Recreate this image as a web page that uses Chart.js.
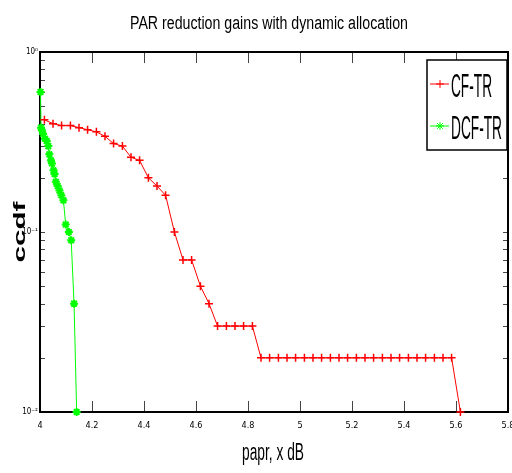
<!DOCTYPE html>
<html>
<head>
<meta charset="utf-8">
<script src="https://cdn.jsdelivr.net/npm/chart.js@4.4.1/dist/chart.umd.min.js"></script>
<style>
  html, body { margin: 0; padding: 0; background: #fff; }
  #wrap { width: 512px; height: 473px; }
</style>
</head>
<body>
<div id="wrap"><canvas id="chart" width="512" height="473"></canvas></div>
<script>
// ---------- DATA ----------
const titleText = "PAR reduction gains with dynamic allocation";
const xLabel = "papr, x dB";
const yLabel = "ccdf";
const seriesNames = ["CF-TR", "DCF-TR"];

const cfX = [4.017, 4.05, 4.083, 4.117, 4.15, 4.183, 4.217, 4.25, 4.283, 4.317,
  4.35, 4.383, 4.417, 4.45, 4.483, 4.517, 4.55, 4.583, 4.617, 4.65,
  4.683, 4.717, 4.75, 4.783, 4.817, 4.85, 4.883, 4.917, 4.95, 4.983,
  5.017, 5.05, 5.083, 5.117, 5.15, 5.183, 5.217, 5.25, 5.283, 5.317,
  5.35, 5.383, 5.417, 5.45, 5.483, 5.517, 5.55, 5.583, 5.617];
const cfY = [0.42, 0.40, 0.39, 0.39, 0.38, 0.37, 0.36, 0.34, 0.31, 0.30,
  0.26, 0.25, 0.20, 0.18, 0.16, 0.10, 0.07, 0.07, 0.05, 0.04,
  0.03, 0.03, 0.03, 0.03, 0.03, 0.02, 0.02, 0.02, 0.02, 0.02,
  0.02, 0.02, 0.02, 0.02, 0.02, 0.02, 0.02, 0.02, 0.02, 0.02,
  0.02, 0.02, 0.02, 0.02, 0.02, 0.02, 0.02, 0.02, 0.01];

const dcfX = [4.002, 4.004, 4.007, 4.012, 4.019, 4.026, 4.032, 4.036, 4.042, 4.046,
  4.052, 4.056, 4.061, 4.068, 4.075, 4.082, 4.090, 4.099, 4.111, 4.120,
  4.131, 4.141];
const dcfY = [0.60, 0.38, 0.37, 0.35, 0.33, 0.32, 0.30, 0.27, 0.25, 0.24,
  0.22, 0.21, 0.19, 0.18, 0.17, 0.16, 0.15, 0.11, 0.10, 0.09,
  0.04, 0.01];

const xTicks = [4, 4.2, 4.4, 4.6, 4.8, 5, 5.2, 5.4, 5.6, 5.8];
const yTicks = [0.01, 0.02, 0.03, 0.04, 0.05, 0.06, 0.07, 0.08, 0.09,
  0.1, 0.2, 0.3, 0.4, 0.5, 0.6, 0.7, 0.8, 0.9, 1];
const yMajor = [1, 0.1, 0.01];
const yMajorLabels = ["10\u2070", "10\u207B\u00B9", "10\u207B\u00B2"];

const FONT = "'Liberation Sans', Arial, sans-serif";
const RED = "#ff0000";
const GREEN = "#00ff00";

function toPoints(xs, ys) {
  return xs.map((x, i) => ({ x: x, y: ys[i] }));
}

// text squeezed/stretched to a given width, like the reference
function drawText(ctx, text, x, y, font, width, align, rotate) {
  ctx.save();
  ctx.font = font;
  const natural = ctx.measureText(text).width;
  ctx.translate(x, y);
  if (rotate) ctx.rotate(-Math.PI / 2);
  ctx.scale(width / natural, 1);
  ctx.textAlign = align;
  ctx.textBaseline = "alphabetic";
  ctx.fillStyle = "#000";
  ctx.fillText(text, 0, 0);
  ctx.restore();
}

// ---------- FRAME + INWARD TICKS ----------
const framePlugin = {
  id: "frame",
  beforeDatasetsDraw(chart) {
    const { ctx, chartArea: a, scales } = chart;
    ctx.save();
    ctx.strokeStyle = "#444";
    ctx.lineWidth = 1;
    ctx.beginPath();
    xTicks.forEach(v => {
      const px = Math.round(scales.x.getPixelForValue(v)) + 0.5;
      ctx.moveTo(px, a.bottom); ctx.lineTo(px, a.bottom - 11);
      ctx.moveTo(px, a.top); ctx.lineTo(px, a.top + 11);
    });
    yTicks.forEach(v => {
      const py = Math.round(scales.y.getPixelForValue(v)) + 0.5;
      ctx.moveTo(a.left, py); ctx.lineTo(a.left + 5, py);
      ctx.moveTo(a.right, py); ctx.lineTo(a.right - 5, py);
    });
    ctx.stroke();

    ctx.strokeStyle = "#000";
    ctx.lineWidth = 2;
    ctx.strokeRect(a.left, a.top, a.right - a.left, a.bottom - a.top);
    ctx.restore();
  },
  afterDraw(chart) {
    const { ctx, chartArea: a } = chart;
    drawText(ctx, titleText, 269, 29, "18px " + FONT, 278, "center");
    drawText(ctx, xLabel, 273, 460, "23px " + FONT, 62, "center");
    drawText(ctx, yLabel, 25, (a.top + a.bottom) / 2, "bold 17px " + FONT, 61, "center", true);
  }
};

// ---------- LEGEND BOX ----------
const legendBox = {
  id: "legendBox",
  afterDraw(chart) {
    const { ctx, chartArea: a } = chart;
    const w = 80, h = 90;
    const x0 = a.right - w - 1, y0 = a.top + 8;
    const widths = [41, 51];
    ctx.save();
    ctx.fillStyle = "#fff";
    ctx.fillRect(x0, y0, w, h);
    ctx.strokeStyle = "#000";
    ctx.lineWidth = 1.5;
    ctx.strokeRect(x0, y0, w, h);

    chart.data.datasets.forEach((ds, i) => {
      const cy = y0 + 24 + i * 42;
      ctx.strokeStyle = ds.borderColor;
      ctx.lineWidth = 1;
      ctx.beginPath();
      ctx.moveTo(x0 + 3, cy); ctx.lineTo(x0 + 22, cy);
      ctx.stroke();
      ctx.fillStyle = ds.borderColor;
      Chart.helpers.drawPoint(ctx, {
        pointStyle: ds.pointStyle, radius: ds.pointRadius,
        borderWidth: ds.pointBorderWidth, rotation: 0
      }, x0 + 13, cy);
      drawText(ctx, ds.label, x0 + 24, cy + 13, "34px " + FONT, widths[i], "left");
    });
    ctx.restore();
  }
};

// ---------- CHART ----------
new Chart(document.getElementById("chart"), {
  type: "line",
  data: {
    datasets: [
      {
        label: seriesNames[0],
        data: toPoints(cfX, cfY),
        borderColor: RED,
        backgroundColor: RED,
        borderWidth: 1,
        pointStyle: "cross",
        pointRadius: 4,
        pointBorderWidth: 1.5,
        pointBorderColor: RED,
        clip: false
      },
      {
        label: seriesNames[1],
        data: toPoints(dcfX, dcfY),
        borderColor: GREEN,
        backgroundColor: GREEN,
        borderWidth: 1,
        pointStyle: "star",
        pointRadius: 4,
        pointBorderWidth: 2,
        pointBorderColor: GREEN,
        clip: false
      }
    ]
  },
  options: {
    responsive: false,
    animation: false,
    layout: { autoPadding: false, padding: { left: 0, right: 4, top: 52, bottom: 0 } },
    plugins: {
      legend: { display: false },
      tooltip: { enabled: false },
      title: { display: false }
    },
    scales: {
      x: {
        type: "linear",
        min: 4,
        max: 5.8,
        afterBuildTicks: s => { s.ticks = xTicks.map(v => ({ value: v })); },
        afterFit: s => { s.height = 61; s.paddingLeft = 0; s.paddingRight = 0; },
        grid: { display: false, drawTicks: false },
        border: { display: false },
        ticks: {
          autoSkip: false,
          maxRotation: 0,
          padding: 8,
          color: "#000",
          font: { family: "'DejaVu Sans Condensed', sans-serif", size: 9 },
          callback: v => String(Math.round(v * 10) / 10)
        }
      },
      y: {
        type: "logarithmic",
        min: 0.01,
        max: 1,
        afterBuildTicks: s => { s.ticks = yTicks.map(v => ({ value: v })); },
        afterFit: s => { s.width = 40; },
        grid: { display: false, drawTicks: false },
        border: { display: false },
        ticks: {
          autoSkip: false,
          padding: 2,
          color: "#000",
          font: { family: "'DejaVu Sans Condensed', sans-serif", size: 8 },
          callback: v => {
            const i = yMajor.findIndex(m => Math.abs(m - v) < 1e-9);
            return i >= 0 ? yMajorLabels[i] : "";
          }
        }
      }
    }
  },
  plugins: [framePlugin, legendBox]
});
</script>
</body>
</html>
